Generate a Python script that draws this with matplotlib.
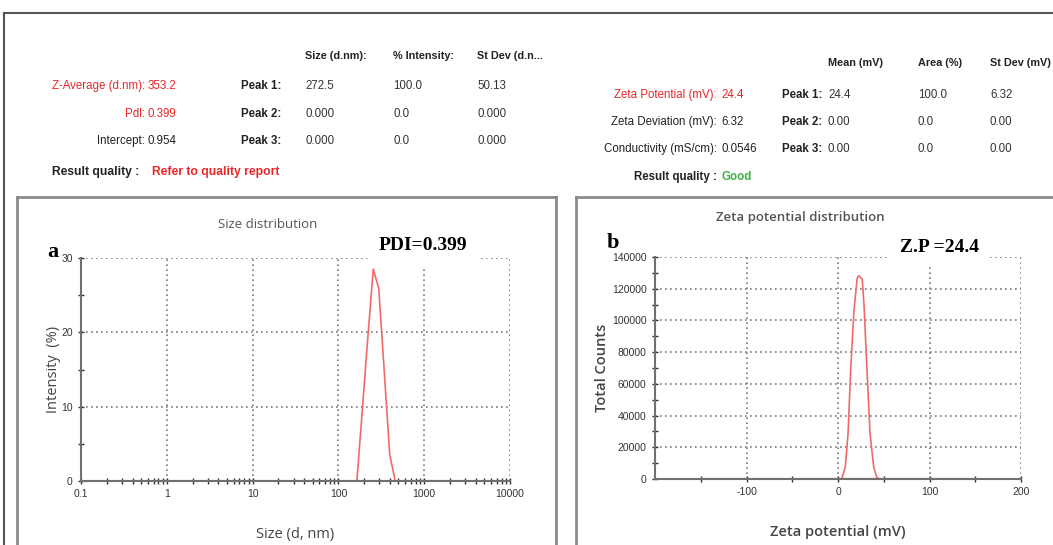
import matplotlib
matplotlib.use('Agg')
import matplotlib.pyplot as plt
from matplotlib.lines import Line2D
from matplotlib.ticker import LogLocator, FixedLocator, NullFormatter

plt.rcParams['axes.unicode_minus'] = False

# Size distribution (intensity %)
size_nm = [0.4, 164.2, 190.1, 220.2, 255.0, 295.3, 342.0, 396.1, 458.7, 10000]
intensity = [0, 0, 9.6, 19.3, 28.5, 25.9, 14.8, 3.6, 0, 0]

# Zeta potential distribution (total counts)
zeta_mv = [-150, 4, 8, 11, 14, 17.5, 21, 22.5, 26.5, 28.5, 31.5, 35, 39, 42.5, 46, 150]
counts = [0, 0, 7600, 28700, 70800, 106700, 126700, 128200, 126000, 109000,
          70800, 28700, 7600, 800, 0, 0]

# report tables
size_labels = ['Z-Average (d.nm):', 'Pdl:', 'Intercept:']
size_values = ['353.2', '0.399', '0.954']
size_header = ['Size (d.nm):', '% Intensity:', 'St Dev (d.n...']
size_peaks = [['272.5', '100.0', '50.13'], ['0.000', '0.0', '0.000'], ['0.000', '0.0', '0.000']]

zeta_labels = ['Zeta Potential (mV):', 'Zeta Deviation (mV):', 'Conductivity (mS/cm):']
zeta_values = ['24.4', '6.32', '0.0546']
zeta_header = ['Mean (mV)', 'Area (%)', 'St Dev (mV)']
zeta_peaks = [['24.4', '100.0', '6.32'], ['0.00', '0.0', '0.00'], ['0.00', '0.0', '0.00']]

W, H = 1053, 545
RED = '#e8262a'
GREEN = '#3cb043'
NARROW = ['Liberation Sans Narrow', 'Liberation Sans', 'DejaVu Sans']
SANS = ['Open Sans', 'DejaVu Sans']
SERIF = ['Liberation Serif', 'DejaVu Serif']

fig = plt.figure(figsize=(W / 100, H / 100), dpi=100)


def px(x, y):
    return x / W, 1 - y / H


def line(x0, y0, x1, y1, color='#777777', lw=1.5):
    a, b = px(x0, y0)
    c, d = px(x1, y1)
    fig.add_artist(Line2D([a, c], [b, d], color=color, lw=lw, transform=fig.transFigure))


def txt(x, y, s, **kw):
    a, b = px(x, y)
    kw.setdefault('family', NARROW)
    kw.setdefault('fontsize', 8.3)
    kw.setdefault('va', 'center')
    fig.text(a, b, s, **kw)


# outer frame and panel boxes
line(4, 13, 1053, 13, '#555555', 1.5)
line(4, 13, 4, 545, '#555555', 1.5)
line(17, 197, 556, 197, '#8a8a8a', 2)
line(17, 197, 17, 545, '#8a8a8a', 2)
line(556, 197, 556, 545, '#8a8a8a', 2)
line(576, 197, 1053, 197, '#8a8a8a', 2)
line(576, 197, 576, 545, '#8a8a8a', 2)

# left table
cols = [305, 393, 477]
for x, h in zip(cols, size_header):
    txt(x, 56, h, fontweight='bold', fontsize=7.8, color='#222222')
rows_y = [86, 114, 141]
for i, y in enumerate(rows_y):
    c = RED if i < 2 else '#222222'
    txt(145, y, size_labels[i], ha='right', color=c)
    txt(148, y, size_values[i], color=c)
    txt(281, y, 'Peak %d:' % (i + 1), ha='right', fontweight='bold', color='#222222')
    for x, v in zip(cols, size_peaks[i]):
        txt(x, y, v, color='#333333')
txt(139, 172, 'Result quality :', ha='right', fontweight='bold', fontsize=8.7, color='#222222')
txt(152, 172, 'Refer to quality report', fontweight='bold', fontsize=8.7, color=RED)

# right table
cols = [828, 918, 990]
for x, h in zip(cols, zeta_header):
    txt(x, 63, h, fontweight='bold', fontsize=7.8, color='#222222')
rows_y = [95, 122, 149]
for i, y in enumerate(rows_y):
    c = RED if i == 0 else '#222222'
    txt(717, y, zeta_labels[i], ha='right', color=c)
    txt(721, y, zeta_values[i], color=c)
    txt(822, y, 'Peak %d:' % (i + 1), ha='right', fontweight='bold', color='#222222')
    for x, v in zip(cols, zeta_peaks[i]):
        txt(x, y, v, color='#333333')
txt(717, 177, 'Result quality :', ha='right', fontweight='bold', color='#222222')
txt(721, 177, 'Good', fontweight='bold', color=GREEN)


def style_axes(ax):
    for s in ['top', 'right']:
        ax.spines[s].set_visible(False)
    for s in ['left', 'bottom']:
        ax.spines[s].set_color('#707070')
        ax.spines[s].set_linewidth(1.5)
    ax.tick_params(which='both', direction='inout', colors='#333333', labelsize=7.5,
                   labelcolor='#333333')
    ax.tick_params(which='major', length=5, width=1)
    ax.tick_params(which='minor', length=4, width=1)
    for lab in ax.get_xticklabels() + ax.get_yticklabels():
        lab.set_family(NARROW)
    ax.grid(True, which='major', color='#7a7a7a', linestyle=(0, (1, 2)), lw=1.2)
    ax.set_axisbelow(True)


# size distribution
ax1 = fig.add_axes([81 / W, 1 - 481 / H, (510 - 81) / W, (481 - 258) / H])
ax1.plot(size_nm, intensity, color='#f06a6a', lw=1.2)
ax1.plot([size_nm[0], size_nm[-1]], [0, 0], color='#d84040', lw=1.5, zorder=1)
ax1.set_xscale('log')
ax1.set_xlim(0.1, 10000)
ax1.set_ylim(0, 30)
ax1.set_xticks([0.1, 1, 10, 100, 1000, 10000])
ax1.set_xticklabels(['0.1', '1', '10', '100', '1000', '10000'])
ax1.xaxis.set_minor_locator(LogLocator(base=10, subs=range(2, 10)))
ax1.xaxis.set_minor_formatter(NullFormatter())
ax1.set_yticks([0, 10, 20, 30])
ax1.yaxis.set_minor_locator(FixedLocator([5, 15, 25]))
style_axes(ax1)
ax1.set_xlabel('Size (d, nm)', family=SANS, fontsize=10.5, color='#444444', labelpad=20)
ax1.set_ylabel('Intensity  (%)', family=SANS, fontsize=10.5, color='#444444', labelpad=0)

txt(268, 224, 'Size distribution', ha='center', family=SANS, fontsize=9.5, color='#555555')
txt(47, 252, 'a', family=SERIF, fontweight='bold', fontsize=16, color='black')
txt(379, 246, 'PDI=0.399', family=SERIF, fontweight='bold', fontsize=14, color='black',
    bbox=dict(facecolor='white', edgecolor='none', pad=8))

# zeta potential distribution
ax2 = fig.add_axes([655 / W, 1 - 479 / H, (1021 - 655) / W, (479 - 257) / H])
ax2.plot(zeta_mv, counts, color='#f06a6a', lw=1.2)
ax2.plot([zeta_mv[0], zeta_mv[-1]], [0, 0], color='#d84040', lw=1.5, zorder=1)
ax2.set_xlim(-200, 200)
ax2.set_ylim(0, 140000)
ax2.set_xticks([-100, 0, 100, 200])
ax2.xaxis.set_minor_locator(FixedLocator([-150, -50, 50, 150]))
ax2.set_yticks(range(0, 140001, 20000))
ax2.yaxis.set_minor_locator(FixedLocator(range(10000, 140000, 20000)))
style_axes(ax2)
ax2.set_xlabel('Zeta potential (mV)', family=SANS, fontsize=10.5, fontweight='semibold',
               color='#444444', labelpad=20)
ax2.set_ylabel('Total Counts', family=SANS, fontsize=10.5, fontweight='semibold',
               color='#444444', labelpad=2)

txt(800, 218, 'Zeta potential distribution', ha='center', family=SANS, fontsize=9.5,
    fontweight='semibold', color='#555555')
txt(607, 243, 'b', family=SERIF, fontweight='bold', fontsize=16, color='black')
txt(900, 248, 'Z.P =24.4', family=SERIF, fontweight='bold', fontsize=14, color='black',
    bbox=dict(facecolor='white', edgecolor='none', pad=7))

fig.savefig('out.png', dpi=100)
